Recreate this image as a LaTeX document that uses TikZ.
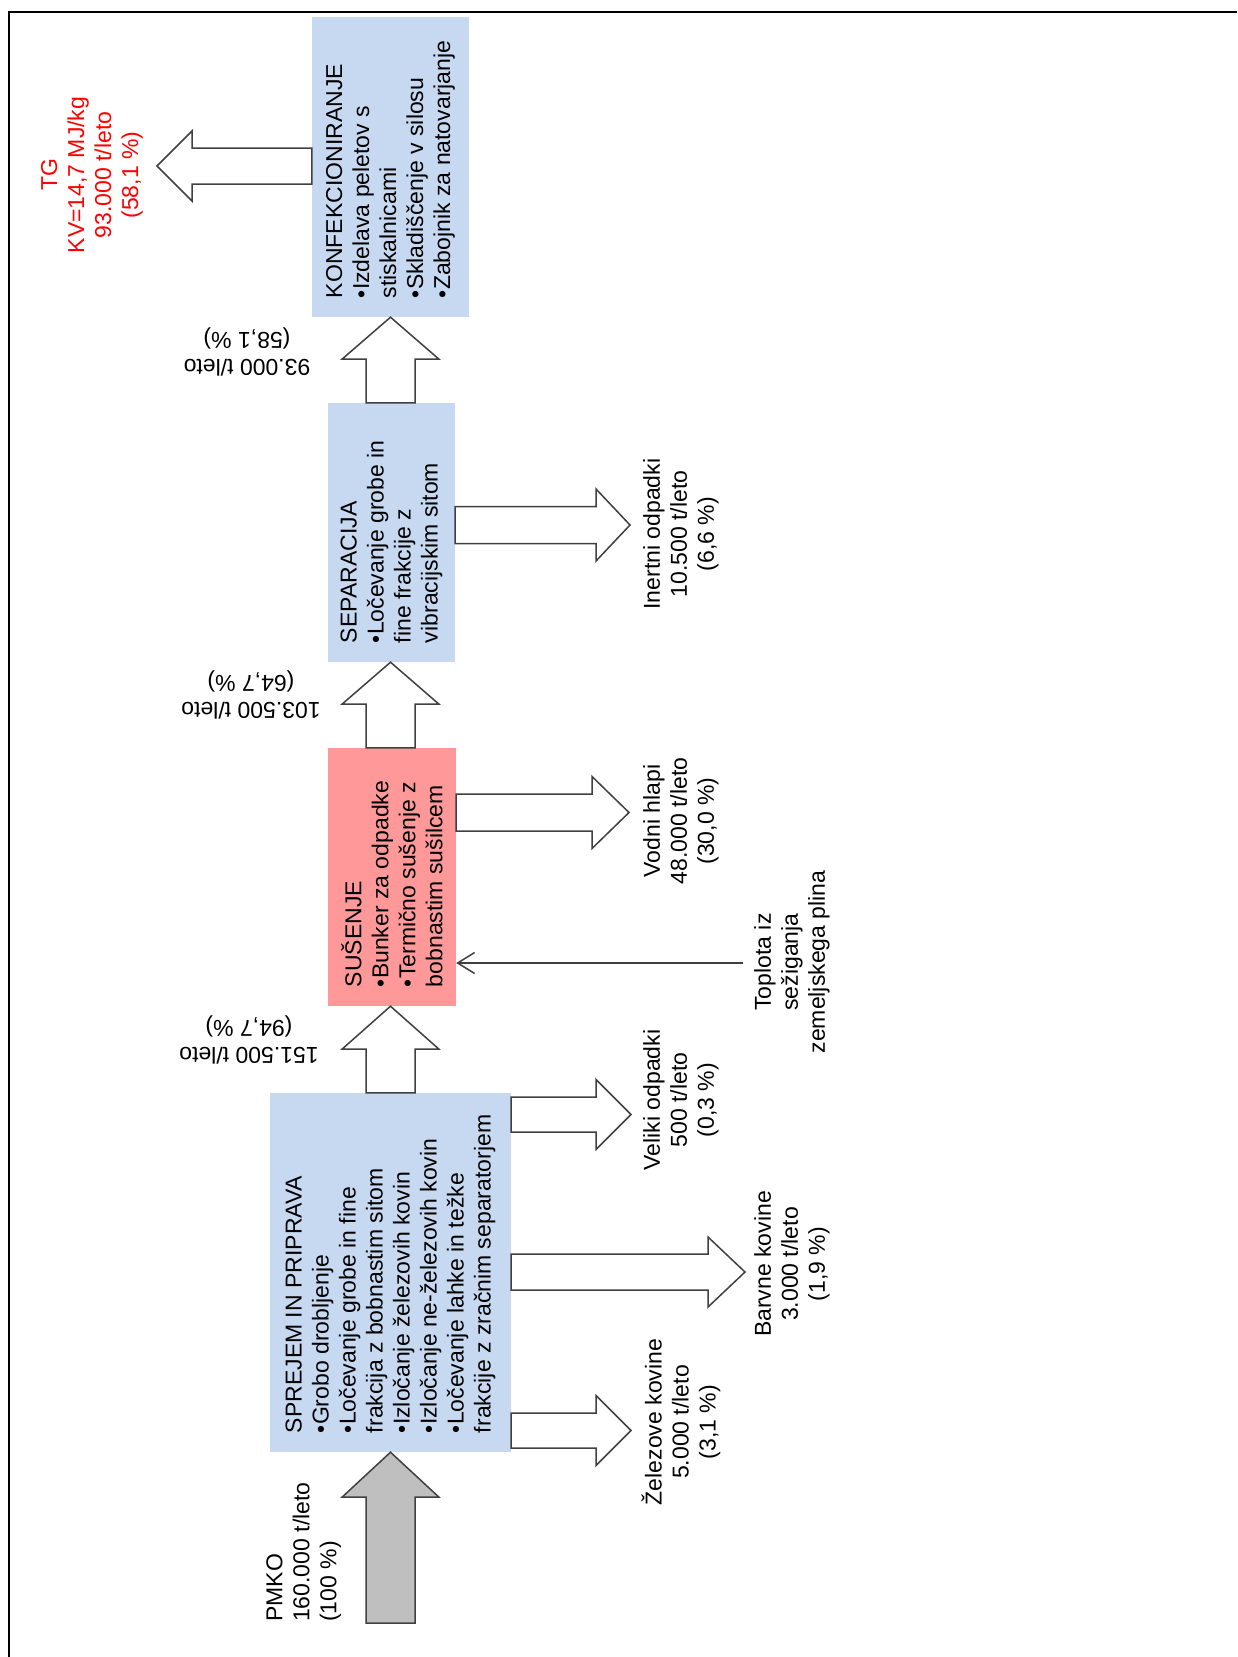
\documentclass[tikz,border=0pt]{standalone}
\usepackage{fontspec}
\setmainfont{Liberation Sans}
\usetikzlibrary{calc,arrows.meta}

\definecolor{boxblue}{HTML}{C6D9F1}
\definecolor{boxred}{HTML}{FF9999}
\definecolor{arrowline}{HTML}{404040}
\definecolor{feedgray}{HTML}{BFBFBF}
\definecolor{productred}{HTML}{FF0000}

% Block (outline) arrow from #2 to #3: shaft half-width #4, head half-width #5, head length #6
\newcommand\flowblock[6][]{%
  \coordinate (ba-s) at #2;
  \coordinate (ba-t) at #3;
  \coordinate (ba-b) at ($(ba-t)!#6!(ba-s)$);
  \draw[flowarrow,#1] ($(ba-s)!#4!90:(ba-t)$) -- ($(ba-b)!#4!90:(ba-t)$)
    -- ($(ba-b)!#5!90:(ba-t)$) -- (ba-t) -- ($(ba-b)!#5!-90:(ba-t)$)
    -- ($(ba-b)!#4!-90:(ba-t)$) -- ($(ba-s)!#4!-90:(ba-t)$) -- cycle;
}

\tikzset{
  txt/.style={font=\fontsize{23}{27}\selectfont, inner sep=0pt},
  procbox/.style={fill=boxblue, draw=none, inner sep=0pt},
  boxtext/.style={txt, rotate=90, align=left, anchor=west},
  flowarrow/.style={draw=arrowline, line width=1.5pt, fill=white, line join=miter},
  sidelabel/.style={txt, rotate=90, align=center},
  flowlabel/.style={txt, rotate=180, align=center},
  heatline/.style={draw=arrowline, line width=1.5pt, -{Straight Barb[length=17pt,width=21pt]}},
}

\begin{document}
\begin{tikzpicture}[x=1pt,y=-1pt]
\useasboundingbox (0,0) rectangle (1237,1657);
\fill[white] (0,0) rectangle (1237,1657);
\draw[line width=2pt] (8.5,1657) -- (8.5,12) -- (1237,12);

% process boxes
\node[procbox, minimum width=157pt, minimum height=300pt] (konf) at (390.5,167) {};
\node[procbox, minimum width=127pt, minimum height=259pt] (sep) at (391.5,532.5) {};
\node[procbox, fill=boxred, minimum width=128pt, minimum height=258pt] (sus) at (392,877) {};
\node[procbox, minimum width=241pt, minimum height=359pt] (sprejem) at (390.5,1272.5) {};

\node[boxtext] (konf-t) at ($(konf.south)+(0,-19)$) {KONFEKCIONIRANJE\\•Izdelava peletov s\\stiskalnicami\\•Skladiščenje v silosu\\•Zabojnik za natovarjanje};
\node[boxtext] (sep-t) at ($(sep.south)+(0,-19)$) {SEPARACIJA\\•Ločevanje grobe in\\fine frakcije z\\vibracijskim sitom};
\node[boxtext] (sus-t) at ($(sus.south)+(0,-19)$) {SUŠENJE\\•Bunker za odpadke\\•Termično sušenje z\\bobnastim sušilcem};
\node[boxtext] (sprejem-t) at ($(sprejem.south)+(0,-19)$) {SPREJEM IN PRIPRAVA\\•Grobo drobljenje\\•Ločevanje grobe in fine\\frakcija z bobnastim sitom\\•Izločanje železovih kovin\\•Izločanje ne-železovih kovin\\•Ločevanje lahke in težke\\frakcije z zračnim separatorjem};

% main flow
\coordinate (pmko-in) at (390.5,1623);
\flowblock[fill=feedgray]{(pmko-in)}{(sprejem.south)}{24.5pt}{48.5pt}{45pt}
\flowblock{(sprejem.north)}{(sprejem.north |- sus.south)}{24.5pt}{48.5pt}{43pt}
\flowblock{(sprejem.north |- sus.north)}{(sprejem.north |- sep.south)}{24.5pt}{48.5pt}{42pt}
\flowblock{(sprejem.north |- sep.north)}{(konf.south)}{24.5pt}{48.5pt}{42pt}

\coordinate (tg-tip) at (157,166);
\flowblock{(konf.west |- tg-tip)}{(tg-tip)}{18pt}{35pt}{35pt}

% side streams
\coordinate (inert-tip) at (630,525);
\flowblock{(sep.east |- inert-tip)}{(inert-tip)}{18.5pt}{36pt}{34pt}
\coordinate (vodni-tip) at (629,812.5);
\flowblock{(sus.east |- vodni-tip)}{(vodni-tip)}{18.5pt}{36pt}{37pt}
\coordinate (veliki-tip) at (631,1114.5);
\flowblock{(sprejem.east |- veliki-tip)}{(veliki-tip)}{17.5pt}{35pt}{35pt}
\coordinate (barvne-tip) at (745,1272);
\flowblock{(sprejem.east |- barvne-tip)}{(barvne-tip)}{18pt}{35pt}{37pt}
\coordinate (zel-tip) at (631,1430.5);
\flowblock{(sprejem.east |- zel-tip)}{(zel-tip)}{17.5pt}{35pt}{35pt}

\coordinate (heat-src) at (743,963);
\draw[heatline] (heat-src) -- (sus.east |- heat-src);

% labels
\node[txt, rotate=90, align=left, anchor=north west] (pmko) at (266,1622) {PMKO\\160.000 t/leto\\(100 \%)};
\node[flowlabel] (f1) at (247,352) {93.000 t/leto\\(58,1 \%)};
\node[flowlabel] (f2) at (251,695) {103.500 t/leto\\(64,7 \%)};
\node[flowlabel] (f3) at (249,1040) {151.500 t/leto\\(94,7 \%)};
\node[sidelabel, text=productred] (tg) at (92,175) {TG\\KV=14,7 MJ/kg\\93.000 t/leto\\(58,1 \%)};
\node[sidelabel] (inert) at (681,534) {Inertni odpadki\\10.500 t/leto\\(6,6 \%)};
\node[sidelabel] (vodni) at (681,821) {Vodni hlapi\\48.000 t/leto\\(30,0 \%)};
\node[sidelabel] (toplota) at (792,962) {Toplota iz\\sežiganja\\zemeljskega plina};
\node[sidelabel] (veliki) at (681,1100) {Veliki odpadki\\500 t/leto\\(0,3 \%)};
\node[sidelabel] (barvne) at (792,1264) {Barvne kovine\\3.000 t/leto\\(1,9 \%)};
\node[sidelabel] (zel) at (681,1422) {Železove kovine\\5.000 t/leto\\(3,1 \%)};
\end{tikzpicture}
\end{document}
